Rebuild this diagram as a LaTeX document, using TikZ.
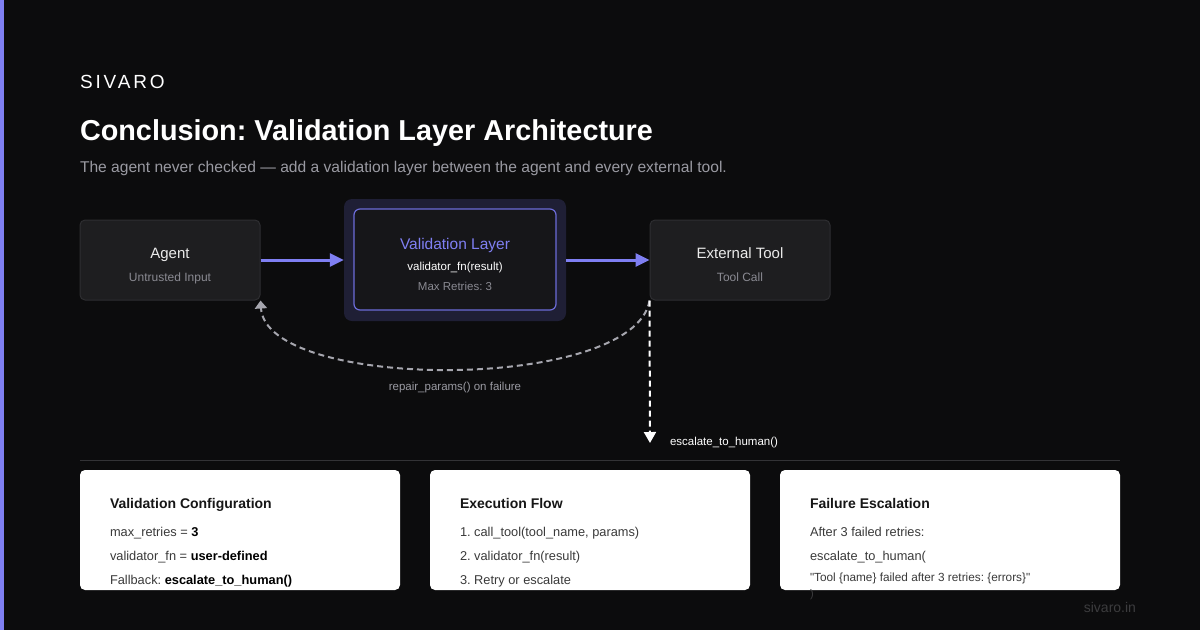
\documentclass[tikz,border=0pt]{standalone}
\usepackage{fontspec}
\setmainfont{Liberation Sans}[Ligatures=TeXOff]
\usetikzlibrary{arrows.meta}
\frenchspacing
\definecolor{bg}{HTML}{0C0C0D}
\definecolor{accent}{HTML}{7F7FF2}
\definecolor{boxfill}{HTML}{1E1E20}
\definecolor{boxline}{HTML}{2E2E31}
\definecolor{vouterfill}{HTML}{1F1F35}
\definecolor{vinnerfill}{HTML}{161619}
\definecolor{vinnerline}{HTML}{6C6CD8}
\definecolor{subgrey}{HTML}{9A9AA2}
\definecolor{mutegrey}{HTML}{8A8A92}
\definecolor{dashgrey}{HTML}{A6A6AE}
\definecolor{rulegrey}{HTML}{333336}
\definecolor{cardtitle}{HTML}{161616}
\definecolor{cardtext}{HTML}{3A3A3A}
\definecolor{footgrey}{HTML}{3C3C3E}
\newcommand{\fs}[1]{\fontsize{#1}{#1}\selectfont}
\tikzset{
  txt/.style={inner sep=0pt, outer sep=0pt},
  darkbox/.style={draw=boxline, line width=1pt, fill=boxfill, rounded corners=5pt, inner sep=0pt},
  card/.style={fill=white, rounded corners=5pt, inner sep=0pt},
  flowarrow/.style={draw=accent, line width=3pt, -{Triangle[width=13pt,length=14pt]}},
  repairarrow/.style={draw=dashgrey, line width=2pt, dash pattern=on 6pt off 4pt, -{Triangle[width=12pt,length=8pt]}},
  escarrow/.style={draw=white, line width=2pt, dash pattern=on 6pt off 4pt, -{Triangle[width=12pt,length=11pt]}},
  cardhead/.style={txt, anchor=base west, text=cardtitle, font=\fs{14}\bfseries},
  cardline/.style={txt, anchor=base west, text=cardtext, font=\fs{12.8}},
}
\begin{document}
\begin{tikzpicture}[x=1pt,y=-1pt]
\useasboundingbox (0,0) rectangle (1200,630);
\fill[bg] (0,0) rectangle (1200,630);
\fill[accent] (0,0) rectangle (4,630);

% header
\node[txt, anchor=base west, text=white, font=\fs{19}\addfontfeature{LetterSpace=15}] (brand) at (80,88) {SIVARO};
\node[txt, anchor=base west, text=white, font=\fs{28.8}\bfseries] (title) at (80,140) {Conclusion: Validation Layer Architecture};
\node[txt, anchor=base west, text=subgrey, font=\fs{15.6}] (subtitle) at (80,172) {The agent never checked — add a validation layer between the agent and every external tool.};

% boxes
\node[darkbox, minimum width=180pt, minimum height=80pt] (agent) at (170,260) {};
\node[txt, anchor=base, text=white!92!black, font=\fs{15}] (agentT) at (170,258) {Agent};
\node[txt, anchor=base, text=mutegrey, font=\fs{12}] (agentS) at (170,281) {Untrusted Input};

\node[fill=vouterfill, rounded corners=8pt, minimum width=222pt, minimum height=122pt, inner sep=0pt] (vouter) at (455,260) {};
\node[draw=vinnerline, line width=1.2pt, fill=vinnerfill, rounded corners=6pt, minimum width=202pt, minimum height=101pt, inner sep=0pt] (vinner) at (455,259.5) {};
\node[txt, anchor=base, text=accent, font=\fs{15.5}] (vT) at (455,249) {Validation Layer};
\node[txt, anchor=base, text=white, font=\fs{11.5}] (vS1) at (455,270) {validator\_fn(result)};
\node[txt, anchor=base, text=mutegrey, font=\fs{11.5}] (vS2) at (455,290) {Max Retries: 3};

\node[darkbox, minimum width=180pt, minimum height=80pt] (ext) at (740,260) {};
\node[txt, anchor=base, text=white!92!black, font=\fs{15}] (extT) at (740,258) {External Tool};
\node[txt, anchor=base, text=mutegrey, font=\fs{12}] (extS) at (740,281) {Tool Call};

% connectors
\draw[flowarrow] (agent.east) -- (vouter.west);
\draw[flowarrow] (vouter.east) -- (ext.west);
\draw[repairarrow] (ext.south west) .. controls (635,392) and (266,392) .. (agent.south east);
\node[txt, anchor=base, text=subgrey, font=\fs{11.5}] (repairL) at (455,390) {repair\_params() on failure};
\coordinate (escEnd) at (650,443);
\draw[escarrow] (ext.south west) -- (escEnd);
\node[txt, anchor=base west, text=white, font=\fs{11.5}] (escL) at (670,445) {escalate\_to\_human()};

% divider
\draw[rulegrey, line width=1pt] (80,460.5) -- (1120,460.5);

% cards
\node[card, minimum width=320pt, minimum height=120pt] (card1) at (240,530) {};
\node[cardhead] (c1h) at (110,508) {Validation Configuration};
\node[cardline] (c1a) at (110,536) {max\_retries = \textcolor{black}{\bfseries 3}};
\node[cardline] (c1b) at (110,560) {validator\_fn = \textcolor{black}{\bfseries user-defined}};
\node[cardline] (c1c) at (110,584) {Fallback: \textcolor{black}{\bfseries escalate\_to\_human()}};

\node[card, minimum width=320pt, minimum height=120pt] (card2) at (590,530) {};
\node[cardhead] (c2h) at (460,508) {Execution Flow};
\node[cardline] (c2a) at (460,536) {1. call\_tool(tool\_name, params)};
\node[cardline] (c2b) at (460,560) {2. validator\_fn(result)};
\node[cardline] (c2c) at (460,584) {3. Retry or escalate};

\node[card, minimum width=340pt, minimum height=120pt] (card3) at (950,530) {};
\node[cardhead] (c3h) at (810,508) {Failure Escalation};
\node[cardline] (c3a) at (810,536) {After 3 failed retries:};
\node[cardline] (c3b) at (810,560) {escalate\_to\_human(};
\node[cardline, font=\fs{11.8}] (c3c) at (810,581) {"Tool \{name\} failed after 3 retries: \{errors\}"};
\node[cardline, font=\fs{11}, text=footgrey] (c3d) at (810,597) {)};

\node[txt, anchor=base east, text=footgrey, font=\fs{14}] (foot) at (1136,612) {sivaro.in};
\end{tikzpicture}
\end{document}
